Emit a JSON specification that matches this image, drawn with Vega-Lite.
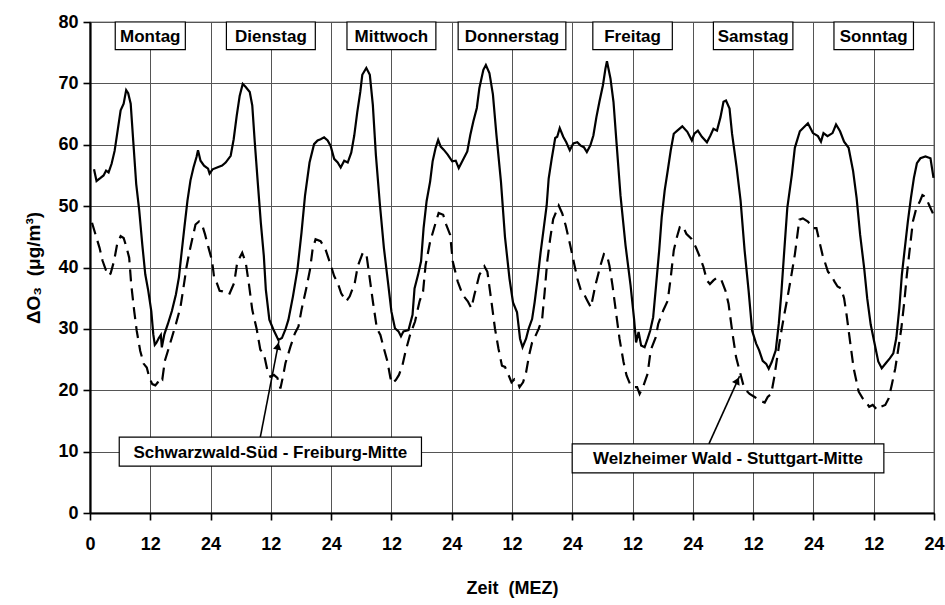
{
  "$schema": "https://vega.github.io/schema/vega-lite/v6.json",
  "width": 844,
  "height": 491,
  "autosize": {"type": "none"},
  "padding": {"left": 90, "top": 22, "right": 11, "bottom": 92},
  "background": "white",
  "config": {
    "font": "Liberation Sans",
    "view": {"stroke": "black", "strokeWidth": 1.2},
    "axis": {"labelColor": "black", "titleColor": "black", "labelFont": "Liberation Sans", "titleFont": "Liberation Sans"}
  },
  "datasets": {
    "schwarzwald": [
      {"t":0.8,"o3":56},{"t":1.3,"o3":54.1},{"t":2.1,"o3":54.6},{"t":2.7,"o3":55},{"t":3.2,"o3":55.8},{"t":3.7,"o3":55.5},{"t":4.3,"o3":56.9},{"t":4.9,"o3":59},{"t":5.5,"o3":62.3},{"t":6.1,"o3":65.6},{"t":6.7,"o3":66.7},{"t":7.2,"o3":68.9},{"t":7.6,"o3":68.4},{"t":8.1,"o3":66.7},{"t":8.6,"o3":60.7},{"t":9.2,"o3":53.6},{"t":9.8,"o3":49.3},{"t":10.4,"o3":43.8},{"t":11.0,"o3":38.9},{"t":11.6,"o3":36.2},{"t":12.2,"o3":32.9},{"t":12.6,"o3":29.1},{"t":12.9,"o3":27.4},{"t":13.2,"o3":27.7},{"t":13.7,"o3":28.5},{"t":14.1,"o3":29},{"t":14.3,"o3":27},{"t":14.8,"o3":29.1},{"t":15.5,"o3":30.8},{"t":16.3,"o3":32.9},{"t":17.1,"o3":35.6},{"t":17.7,"o3":38.4},{"t":18.2,"o3":42.2},{"t":18.8,"o3":46.6},{"t":19.4,"o3":50.9},{"t":20.0,"o3":54.2},{"t":20.6,"o3":56.3},{"t":21.2,"o3":58},{"t":21.5,"o3":59.1},{"t":22.0,"o3":57.4},{"t":22.7,"o3":56.6},{"t":23.5,"o3":56.1},{"t":23.8,"o3":55.3},{"t":24.4,"o3":56},{"t":25.3,"o3":56.3},{"t":26.3,"o3":56.6},
      {"t":27.0,"o3":57.1},{"t":28.0,"o3":58.2},{"t":28.6,"o3":60.9},{"t":29.2,"o3":64.7},{"t":29.8,"o3":68},{"t":30.4,"o3":69.9},{"t":31.0,"o3":69.4},{"t":31.8,"o3":68.6},{"t":32.3,"o3":66.4},{"t":32.8,"o3":60.4},{"t":33.4,"o3":53.8},{"t":34.0,"o3":47.3},{"t":34.6,"o3":41.9},{"t":35.0,"o3":36.4},{"t":35.7,"o3":31.5},{"t":36.5,"o3":29.9},{"t":37.5,"o3":28.2},{"t":38.2,"o3":28.5},{"t":38.9,"o3":29.9},{"t":39.5,"o3":31.5},{"t":40.4,"o3":35.3},{"t":41.3,"o3":39.7},{"t":42.1,"o3":45.7},{"t":42.8,"o3":51.7},{"t":43.7,"o3":57.1},{"t":44.6,"o3":60.1},{"t":45.3,"o3":60.7},{"t":45.9,"o3":60.9},{"t":46.6,"o3":61.2},{"t":47.3,"o3":60.7},{"t":47.9,"o3":59.8},{"t":48.6,"o3":57.7},{"t":49.3,"o3":57.1},{"t":49.9,"o3":56.3},{"t":50.6,"o3":57.4},{"t":51.3,"o3":57.1},{"t":52.0,"o3":58.7},{"t":52.6,"o3":61.5},{"t":53.2,"o3":65.3},{"t":53.8,"o3":68.6},
      {"t":54.2,"o3":71.4},{"t":55.0,"o3":72.5},{"t":55.7,"o3":71.4},{"t":56.3,"o3":66.5},{"t":56.9,"o3":58.4},{"t":57.7,"o3":50.3},{"t":58.5,"o3":43.2},{"t":59.3,"o3":37.7},{"t":60.0,"o3":32.8},{"t":60.7,"o3":30.1},{"t":61.4,"o3":29.6},{"t":61.9,"o3":28.8},{"t":62.4,"o3":29.6},{"t":63.4,"o3":29.8},{"t":64.2,"o3":32.3},{"t":64.6,"o3":36.6},{"t":65.3,"o3":38.8},{"t":65.9,"o3":41},{"t":66.4,"o3":46.4},{"t":67.0,"o3":50.8},{"t":67.7,"o3":54},{"t":68.2,"o3":57.3},{"t":68.8,"o3":59.5},{"t":69.3,"o3":60.8},{"t":69.8,"o3":59.7},{"t":70.4,"o3":59.2},{"t":71.2,"o3":58.4},{"t":72.1,"o3":57.3},{"t":72.8,"o3":57.4},{"t":73.4,"o3":56.2},{"t":74.1,"o3":57.3},{"t":75.1,"o3":58.9},{"t":75.7,"o3":61.6},{"t":76.3,"o3":63.8},{"t":77.0,"o3":66},{"t":77.5,"o3":69.2},{"t":78.3,"o3":72.2},{"t":78.8,"o3":73},{"t":79.5,"o3":71.7},{"t":80.2,"o3":68.2},{"t":80.9,"o3":61.6},{"t":81.8,"o3":54},
      {"t":82.6,"o3":45},{"t":83.5,"o3":38.2},{"t":84.2,"o3":34.3},{"t":85.0,"o3":32.7},{"t":85.6,"o3":28.4},{"t":86.1,"o3":27},{"t":86.8,"o3":28.4},{"t":87.3,"o3":30},{"t":88.0,"o3":31.6},{"t":88.5,"o3":34.3},{"t":89.1,"o3":38.2},{"t":89.7,"o3":42.5},{"t":90.3,"o3":46.3},{"t":90.9,"o3":50.1},{"t":91.3,"o3":54.5},{"t":91.9,"o3":57.7},{"t":92.6,"o3":61.1},{"t":93.0,"o3":61.3},{"t":93.5,"o3":62.7},{"t":94.2,"o3":61.3},{"t":94.8,"o3":60.4},{"t":95.5,"o3":59.1},{"t":96.2,"o3":60.2},{"t":97.0,"o3":60.4},{"t":97.6,"o3":59.9},{"t":98.3,"o3":59.6},{"t":98.9,"o3":58.8},{"t":99.6,"o3":59.9},{"t":100.2,"o3":61.5},{"t":100.8,"o3":64.5},{"t":101.4,"o3":67},{"t":102.1,"o3":69.7},{"t":102.6,"o3":72.4},{"t":102.9,"o3":73.6},{"t":103.6,"o3":70.8},{"t":104.2,"o3":67},{"t":104.8,"o3":60.4},{"t":105.6,"o3":51.7},{"t":106.6,"o3":43.6},{"t":107.6,"o3":37.1},{"t":108.3,"o3":31.6},{"t":108.7,"o3":27.8},{"t":109.2,"o3":29.5},{"t":109.7,"o3":27.3},{"t":110.4,"o3":27},{"t":111.0,"o3":28.4},
      {"t":111.5,"o3":29.7},{"t":112.1,"o3":31.9},{"t":112.7,"o3":37.3},{"t":113.3,"o3":42.8},{"t":113.8,"o3":48.2},{"t":114.4,"o3":52.6},{"t":115.0,"o3":55.8},{"t":115.6,"o3":59.1},{"t":116.2,"o3":61.8},{"t":116.9,"o3":62.3},{"t":117.9,"o3":63},{"t":118.9,"o3":62.1},{"t":119.8,"o3":60.7},{"t":120.3,"o3":61.8},{"t":121.0,"o3":62.3},{"t":121.8,"o3":61.3},{"t":122.8,"o3":60.4},{"t":123.5,"o3":61.5},{"t":124.1,"o3":62.6},{"t":124.8,"o3":62.3},{"t":125.5,"o3":64.5},{"t":126.1,"o3":67},{"t":126.6,"o3":67.2},{"t":127.3,"o3":65.9},{"t":127.8,"o3":61.8},{"t":128.7,"o3":56.4},{"t":129.5,"o3":50.9},{"t":130.3,"o3":42.8},{"t":131.1,"o3":36.2},{"t":131.8,"o3":29.7},{"t":132.6,"o3":27.6},{"t":133.2,"o3":26.5},{"t":133.9,"o3":24.8},{"t":134.6,"o3":24.3},{"t":135.1,"o3":23.5},{"t":135.7,"o3":24.6},{"t":136.5,"o3":26.5},{"t":137.1,"o3":30.8},{"t":137.6,"o3":35.7},{"t":138.2,"o3":42.8},
      {"t":138.8,"o3":49.7},{"t":139.7,"o3":55.1},{"t":140.3,"o3":59.5},{"t":141.3,"o3":62.2},{"t":141.9,"o3":62.7},{"t":142.9,"o3":63.5},{"t":143.9,"o3":61.9},{"t":144.9,"o3":61.4},{"t":145.5,"o3":60.5},{"t":146.0,"o3":61.9},{"t":146.8,"o3":61.4},{"t":147.8,"o3":61.9},{"t":148.5,"o3":63.3},{"t":149.3,"o3":62.2},{"t":150.1,"o3":60.5},{"t":151.0,"o3":59.5},{"t":151.9,"o3":55.7},{"t":152.6,"o3":51.3},{"t":153.3,"o3":45.3},{"t":154.1,"o3":39.9},{"t":154.7,"o3":35},{"t":155.4,"o3":30.7},{"t":156.1,"o3":27.9},{"t":156.9,"o3":24.7},{"t":157.6,"o3":23.6},{"t":158.4,"o3":24.4},{"t":159.2,"o3":25.2},{"t":159.9,"o3":26},{"t":160.5,"o3":28.5},{"t":161.1,"o3":33.4},{"t":161.6,"o3":38.8},{"t":162.2,"o3":43.2},{"t":162.8,"o3":47.5},{"t":163.4,"o3":51.3},{"t":164.0,"o3":54.6},{"t":164.6,"o3":57},{"t":165.3,"o3":57.8},{"t":166.3,"o3":58.1},{"t":167.3,"o3":57.8},{"t":167.9,"o3":54.6}
    ],
    "welzheim": [
      {"t":0.4,"o3":47.3},{"t":1.2,"o3":45.1},{"t":1.9,"o3":43.2},{"t":2.5,"o3":41.1},{"t":3.2,"o3":39.5},{"t":3.6,"o3":38.7},{"t":4.1,"o3":39},{"t":4.8,"o3":41.1},{"t":5.4,"o3":43.8},{"t":6.1,"o3":45.1},{"t":6.7,"o3":44.8},{"t":7.3,"o3":43.2},{"t":7.8,"o3":41.6},{"t":8.2,"o3":37.3},{"t":8.8,"o3":32.9},{"t":9.3,"o3":29.7},{"t":10.0,"o3":26.4},{"t":10.7,"o3":24.3},{"t":11.3,"o3":23.7},{"t":11.8,"o3":22.1},{"t":12.4,"o3":21},{"t":13.0,"o3":20.8},{"t":13.5,"o3":21.3},{"t":14.0,"o3":22.1},{"t":14.4,"o3":21.8},{"t":14.9,"o3":24.8},{"t":15.5,"o3":26.4},{"t":16.3,"o3":28.6},{"t":17.1,"o3":30.8},{"t":18.0,"o3":33.5},{"t":18.6,"o3":36.7},{"t":19.2,"o3":40},{"t":19.8,"o3":42.6},{"t":20.4,"o3":44.8},{"t":21.0,"o3":47},{"t":21.7,"o3":47.5},{"t":22.3,"o3":47},{"t":22.9,"o3":45.4},{"t":23.6,"o3":43.2},{"t":24.3,"o3":41.1},{"t":24.7,"o3":38.4},{"t":25.1,"o3":37.8},{"t":25.8,"o3":36.2},{"t":26.4,"o3":36.1},{"t":27.1,"o3":35.9},{"t":27.7,"o3":35.6},
      {"t":28.7,"o3":37.5},{"t":29.3,"o3":40.8},{"t":30.3,"o3":42.4},{"t":31.0,"o3":40.8},{"t":31.6,"o3":37.5},{"t":32.3,"o3":33.1},{"t":33.2,"o3":29.9},{"t":33.9,"o3":26.6},{"t":34.6,"o3":26},{"t":35.3,"o3":23.3},{"t":35.9,"o3":22.2},{"t":36.6,"o3":22.5},{"t":37.3,"o3":22},{"t":37.9,"o3":20.3},{"t":38.4,"o3":22.2},{"t":38.9,"o3":24.4},{"t":39.9,"o3":27.1},{"t":40.8,"o3":29.3},{"t":41.5,"o3":30.4},{"t":42.1,"o3":33.1},{"t":43.0,"o3":36.4},{"t":43.8,"o3":39.7},{"t":44.3,"o3":42.9},{"t":44.9,"o3":44.6},{"t":45.9,"o3":44.3},{"t":46.9,"o3":42.9},{"t":48.0,"o3":40.2},{"t":48.6,"o3":38.6},{"t":49.3,"o3":37.5},{"t":50.0,"o3":35.8},{"t":51.0,"o3":34.5},{"t":51.7,"o3":35.3},{"t":52.7,"o3":37.5},{"t":53.3,"o3":40.2},{"t":54.3,"o3":42.4},{"t":55.0,"o3":42.3},
      {"t":55.5,"o3":39.3},{"t":56.3,"o3":34.5},{"t":57.1,"o3":30.1},{"t":57.8,"o3":29},{"t":58.5,"o3":26.8},{"t":59.2,"o3":24.7},{"t":59.8,"o3":22},{"t":60.2,"o3":21.1},{"t":60.9,"o3":21.7},{"t":61.5,"o3":22.5},{"t":62.2,"o3":24.1},{"t":62.8,"o3":26.3},{"t":63.7,"o3":29},{"t":64.7,"o3":31.2},{"t":65.6,"o3":34.5},{"t":66.3,"o3":36.1},{"t":66.8,"o3":40.4},{"t":67.7,"o3":44.2},{"t":68.7,"o3":47},{"t":69.4,"o3":48.9},{"t":70.3,"o3":48.6},{"t":70.9,"o3":47},{"t":71.7,"o3":45.3},{"t":72.2,"o3":41},{"t":73.2,"o3":37.7},{"t":74.2,"o3":35.5},{"t":75.2,"o3":34.5},{"t":75.9,"o3":33.4},{"t":76.5,"o3":35.5},{"t":77.5,"o3":38.8},{"t":78.5,"o3":40.2},{"t":79.1,"o3":39.3},{"t":79.9,"o3":34.5},{"t":80.6,"o3":30.1},{"t":81.3,"o3":26.8},{"t":82.0,"o3":24},{"t":82.6,"o3":23.8},{"t":83.1,"o3":22.9},
      {"t":83.9,"o3":21.3},{"t":84.5,"o3":21.8},{"t":85.0,"o3":21.6},{"t":85.5,"o3":20.5},{"t":86.2,"o3":21.3},{"t":86.8,"o3":22.9},{"t":87.4,"o3":25.7},{"t":88.0,"o3":27.8},{"t":88.7,"o3":28.9},{"t":89.3,"o3":30},{"t":90.0,"o3":31.6},{"t":90.5,"o3":36},{"t":91.0,"o3":40.9},{"t":91.6,"o3":44.7},{"t":92.2,"o3":47.9},{"t":92.9,"o3":49.3},{"t":93.3,"o3":50.1},{"t":94.0,"o3":48.8},{"t":94.7,"o3":46.8},{"t":95.6,"o3":43.6},{"t":96.3,"o3":40.9},{"t":97.0,"o3":38.2},{"t":97.7,"o3":36.3},{"t":98.3,"o3":35.7},{"t":99.0,"o3":34.6},{"t":99.7,"o3":33.5},{"t":100.6,"o3":37.1},{"t":101.6,"o3":40.3},{"t":102.3,"o3":42.2},{"t":102.9,"o3":42},{"t":103.4,"o3":40.3},{"t":104.0,"o3":37.1},{"t":104.7,"o3":32.7},{"t":105.4,"o3":28.4},{"t":106.2,"o3":24.6},{"t":106.8,"o3":22.4},{"t":107.6,"o3":20.8},{"t":108.2,"o3":20.5},{"t":108.9,"o3":20.5},{"t":109.4,"o3":19.4},{"t":110.2,"o3":20.8},
      {"t":111.0,"o3":22.7},{"t":111.6,"o3":26.5},{"t":112.6,"o3":28.6},{"t":113.1,"o3":30.8},{"t":114.1,"o3":33},{"t":115.0,"o3":34.6},{"t":115.6,"o3":38.4},{"t":116.2,"o3":42.8},{"t":116.8,"o3":44.9},{"t":117.4,"o3":46.6},{"t":118.0,"o3":46.8},{"t":118.7,"o3":45.5},{"t":119.7,"o3":44.7},{"t":120.6,"o3":43.3},{"t":121.4,"o3":41.7},{"t":122.1,"o3":40.1},{"t":122.8,"o3":37.9},{"t":123.4,"o3":37.3},{"t":124.1,"o3":37.9},{"t":124.9,"o3":38.4},{"t":125.7,"o3":37.9},{"t":126.5,"o3":36.2},{"t":127.1,"o3":34.1},{"t":127.9,"o3":29.2},{"t":128.6,"o3":25.4},{"t":129.3,"o3":23.2},{"t":130.0,"o3":21},{"t":130.7,"o3":19.9},{"t":131.3,"o3":19.4},{"t":132.3,"o3":18.9},{"t":133.3,"o3":18.3},{"t":134.3,"o3":18},{"t":134.9,"o3":18.9},{"t":135.6,"o3":19.4},{"t":136.2,"o3":22.1},{"t":136.8,"o3":25.4},{"t":137.4,"o3":28.6},{"t":138.1,"o3":31.9},{"t":138.7,"o3":34.5},{"t":139.4,"o3":37.7},
      {"t":140.3,"o3":42.1},{"t":141.2,"o3":47.8},{"t":141.9,"o3":48},{"t":142.9,"o3":47.5},{"t":143.9,"o3":46.4},{"t":144.6,"o3":46.4},{"t":145.2,"o3":44.2},{"t":145.8,"o3":42.1},{"t":146.9,"o3":39.3},{"t":147.5,"o3":38.8},{"t":148.2,"o3":37.7},{"t":148.8,"o3":36.9},{"t":149.5,"o3":36.6},{"t":150.1,"o3":35},{"t":150.6,"o3":32.3},{"t":151.3,"o3":27.9},{"t":152.0,"o3":23.6},{"t":153.0,"o3":19.8},{"t":153.8,"o3":18.7},{"t":154.4,"o3":18.2},{"t":155.1,"o3":17.3},{"t":155.8,"o3":17.6},{"t":156.7,"o3":16.8},{"t":157.4,"o3":17.3},{"t":158.3,"o3":17.6},{"t":159.0,"o3":18.7},{"t":159.6,"o3":20.9},{"t":160.3,"o3":23.6},{"t":160.9,"o3":26.8},{"t":161.5,"o3":30.1},{"t":162.1,"o3":34.5},{"t":162.6,"o3":38.8},{"t":163.2,"o3":43.2},{"t":163.8,"o3":47.5},{"t":164.5,"o3":49.7},{"t":165.2,"o3":50.8},{"t":165.7,"o3":51.8},{"t":166.3,"o3":51.5},{"t":167.3,"o3":49.7},{"t":167.9,"o3":48.6}
    ],
    "tage": [
      {"tag":"Montag","t":12,"o3":77.75},
      {"tag":"Dienstag","t":36,"o3":77.75},
      {"tag":"Mittwoch","t":60,"o3":77.75},
      {"tag":"Donnerstag","t":84,"o3":77.75},
      {"tag":"Freitag","t":108,"o3":77.75},
      {"tag":"Samstag","t":132,"o3":77.75},
      {"tag":"Sonntag","t":156,"o3":77.75}
    ],
    "notizen": [
      {"text":"Schwarzwald-Süd - Freiburg-Mitte","t":35.9,"o3":10.0},
      {"text":"Welzheimer Wald - Stuttgart-Mitte","t":127.0,"o3":8.9}
    ],
    "pfeile": [
      {"id":"a","t":33.9,"o3":12.35,"t2":37.6,"o32":28.0},
      {"id":"b","t":123.2,"o3":11.25,"t2":129.3,"o32":22.3}
    ]
  },
  "layer": [
    {
      "data": {"name": "schwarzwald"},
      "mark": {"type": "line", "color": "black", "strokeWidth": 2.2, "interpolate": "linear"},
      "encoding": {
        "x": {
          "field": "t", "type": "quantitative",
          "scale": {"domain": [0, 168], "nice": false, "zero": false},
          "axis": {
            "values": [0,12,24,36,48,60,72,84,96,108,120,132,144,156,168],
            "labelExpr": "datum.value == 0 ? '0' : (datum.value % 24 == 0 ? '24' : '12')",
            "title": "Zeit\u00a0 (MEZ)",
            "grid": true, "gridColor": "#555", "gridWidth": 1,
            "domainColor": "black", "domainWidth": 2.2,
            "tickColor": "black", "tickWidth": 1.6, "tickSize": 7,
            "labelFontSize": 18, "labelFontWeight": "bold", "labelPadding": 15,
            "labelFlush": false, "labelOverlap": false,
            "titleFontSize": 18, "titleFontWeight": "bold", "titlePadding": 26
          }
        },
        "y": {
          "field": "o3", "type": "quantitative",
          "scale": {"domain": [0, 80], "nice": false},
          "axis": {
            "values": [0,5,10,15,20,25,30,35,40,45,50,55,60,65,70,75,80],
            "labelExpr": "datum.value % 10 == 0 ? datum.label : ''",
            "title": "ΔO₃\u00a0 (μg/m³)",
            "grid": true, "gridColor": "#555", "gridWidth": 1,
            "gridOpacity": {"condition": {"test": "datum.value % 10 == 0", "value": 1}, "value": 0},
            "domainColor": "black", "domainWidth": 2.2,
            "tickColor": "black", "tickWidth": 1.6,
            "tickSize": {"condition": {"test": "datum.value % 10 == 0", "value": 7}, "value": 5},
            "labelFontSize": 18, "labelFontWeight": "bold", "labelPadding": 5,
            "labelOverlap": false,
            "titleFontSize": 19, "titleFontWeight": "bold", "titlePadding": 14
          }
        }
      }
    },
    {
      "data": {"name": "welzheim"},
      "mark": {"type": "line", "color": "black", "strokeWidth": 2.2, "strokeDash": [12, 7]},
      "encoding": {
        "x": {"field": "t", "type": "quantitative"},
        "y": {"field": "o3", "type": "quantitative"}
      }
    },
    {
      "data": {"name": "tage"},
      "transform": [
        {"calculate": "datum.t - (0.936 * length(datum.tag) + 1.36)", "as": "x0"},
        {"calculate": "datum.t + (0.936 * length(datum.tag) + 1.36)", "as": "x1"},
        {"calculate": "datum.o3 - 2.25", "as": "y0"},
        {"calculate": "datum.o3 + 2.25", "as": "y1"}
      ],
      "mark": {"type": "rect", "fill": "white", "stroke": "black", "strokeWidth": 1.2},
      "encoding": {
        "x": {"field": "x0", "type": "quantitative"},
        "x2": {"field": "x1"},
        "y": {"field": "y0", "type": "quantitative"},
        "y2": {"field": "y1"}
      }
    },
    {
      "data": {"name": "tage"},
      "mark": {"type": "text", "fontSize": 17, "fontWeight": "bold", "color": "black", "align": "center", "baseline": "middle", "dy": 1},
      "encoding": {
        "x": {"field": "t", "type": "quantitative"},
        "y": {"field": "o3", "type": "quantitative"},
        "text": {"field": "tag"}
      }
    },
    {
      "data": {"name": "pfeile"},
      "mark": {"type": "rule", "color": "black", "strokeWidth": 1.6},
      "encoding": {
        "x": {"field": "t", "type": "quantitative"},
        "y": {"field": "o3", "type": "quantitative"},
        "x2": {"field": "t2"},
        "y2": {"field": "o32"}
      }
    },
    {
      "data": {"name": "pfeile"},
      "transform": [{"filter": "datum.id == 'a'"}],
      "mark": {"type": "point", "shape": "triangle-up", "filled": true, "color": "black", "size": 70, "angle": 12, "opacity": 1, "xOffset": -1, "yOffset": 5},
      "encoding": {
        "x": {"field": "t2", "type": "quantitative"},
        "y": {"field": "o32", "type": "quantitative"}
      }
    },
    {
      "data": {"name": "pfeile"},
      "transform": [{"filter": "datum.id == 'b'"}],
      "mark": {"type": "point", "shape": "triangle-up", "filled": true, "color": "black", "size": 70, "angle": 26, "opacity": 1, "xOffset": -2.2, "yOffset": 4.5},
      "encoding": {
        "x": {"field": "t2", "type": "quantitative"},
        "y": {"field": "o32", "type": "quantitative"}
      }
    },
    {
      "data": {"name": "notizen"},
      "transform": [
        {"calculate": "datum.t - 0.94 * length(datum.text)", "as": "x0"},
        {"calculate": "datum.t + 0.94 * length(datum.text)", "as": "x1"},
        {"calculate": "datum.o3 - 2.35", "as": "y0"},
        {"calculate": "datum.o3 + 2.35", "as": "y1"}
      ],
      "mark": {"type": "rect", "fill": "white", "stroke": "black", "strokeWidth": 1.2},
      "encoding": {
        "x": {"field": "x0", "type": "quantitative"},
        "x2": {"field": "x1"},
        "y": {"field": "y0", "type": "quantitative"},
        "y2": {"field": "y1"}
      }
    },
    {
      "data": {"name": "notizen"},
      "mark": {"type": "text", "fontSize": 17, "fontWeight": "bold", "color": "black", "align": "center", "baseline": "middle", "dy": 1},
      "encoding": {
        "x": {"field": "t", "type": "quantitative"},
        "y": {"field": "o3", "type": "quantitative"},
        "text": {"field": "text"}
      }
    }
  ]
}
